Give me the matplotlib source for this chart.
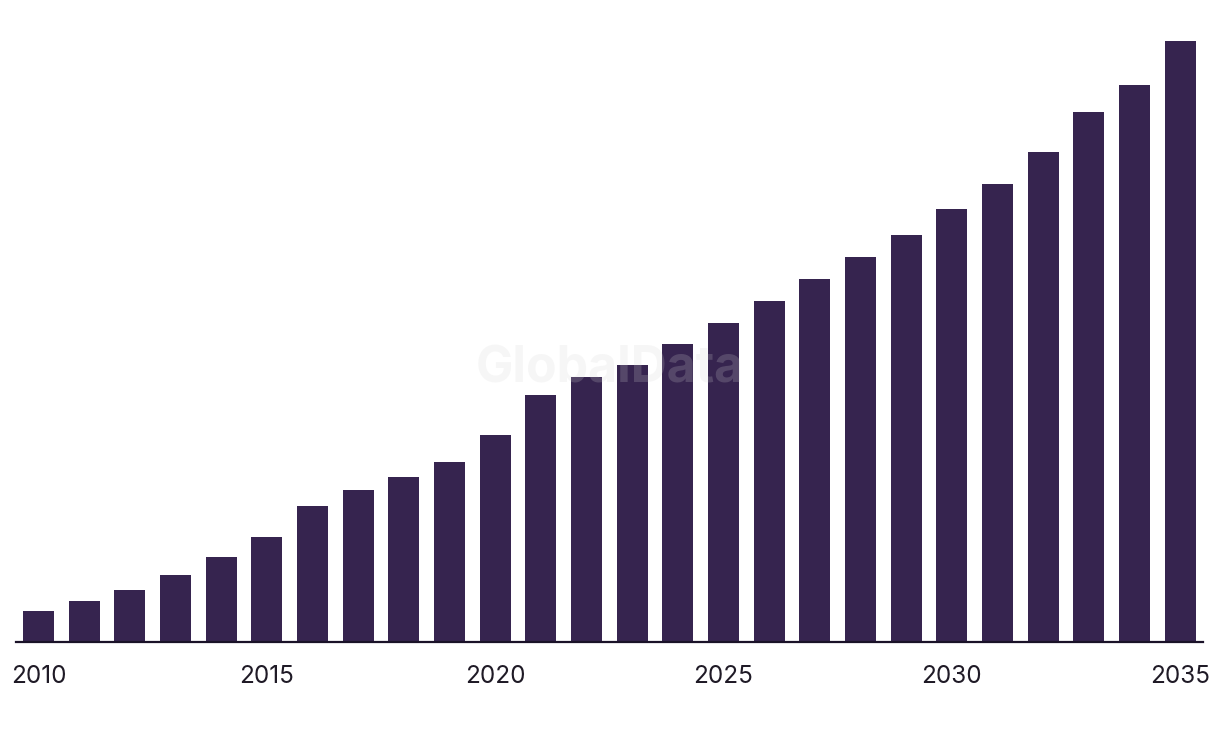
import matplotlib
matplotlib.use("Agg")
import matplotlib.pyplot as plt

years = list(range(2010, 2036))
values = [30, 40, 51, 66, 84, 104, 135, 151, 164, 179, 206, 246, 264, 276,
          297, 318, 340, 362, 384, 406, 431, 456, 488, 528, 555, 599]
tick_years = [2010, 2015, 2020, 2025, 2030, 2035]

plt.rcParams['font.family'] = ['Inter', 'DejaVu Sans']

fig = plt.figure(figsize=(12.2, 7.38), dpi=100)
ax = fig.add_axes([16/1220, 1 - 641.5/738, (1203-16)/1220, (641.5-20)/738])

x = list(range(len(years)))
ax.bar(x, values, width=0.68, color='#36244F', zorder=2)
ax.set_xlim(-0.49, 25.5)
ax.set_ylim(0, 620)

ax.set_xticks([years.index(y) for y in tick_years])
ax.set_xticklabels([str(y) for y in tick_years], fontsize=17.5, color='#1f1a26')
ax.tick_params(axis='x', length=0, pad=17)
ax.set_yticks([])
for s in ['top', 'right', 'left']:
    ax.spines[s].set_visible(False)
ax.spines['bottom'].set_color('#1a1228')
ax.spines['bottom'].set_linewidth(1.6)

fig.text(610/1220, 1 - 369/738, 'GlobalData', fontsize=36, fontweight='bold',
         color='#d5d5d5', alpha=0.2, ha='center', va='center', zorder=5)

fig.savefig('out.png', dpi=100, facecolor='white')
